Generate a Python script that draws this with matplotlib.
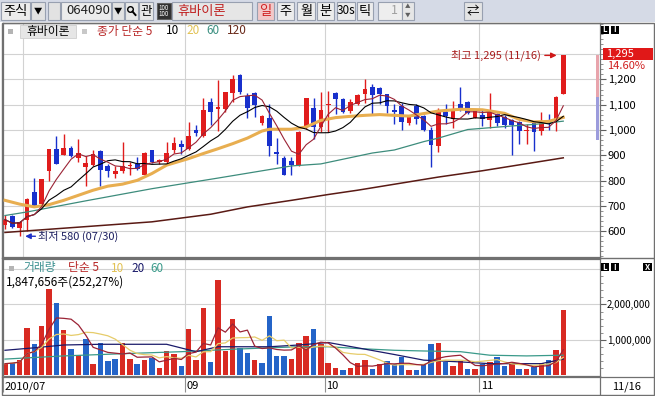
import numpy as np
import pandas as pd
import matplotlib
matplotlib.use('Agg')
import matplotlib.pyplot as plt
from matplotlib.patches import Rectangle

plt.rcParams['font.family'] = ['Noto Sans CJK KR', 'DejaVu Sans']

# daily candles 2010/07/28 .. 2010/11/16 (휴바이론, 064090)
opens = [624, 660, 614, 643, 753, 707, 837, 924, 903, 930,
         889, 854, 863, 917, 857, 825, 838, 857, 867, 821,
         920, 872, 874, 920, 943, 926, 999, 975, 1111, 1085,
         1084, 1147, 1216, 1134, 1146, 1028, 1049, 912, 891, 876,
         861, 1012, 1088, 1012, 1100, 1147, 1121, 1075, 1104, 1143,
         1170, 1167, 1141, 1078, 1093, 1029, 1095, 1054, 999, 936,
         1072, 1042, 1104, 1112, 1048, 1058, 1038, 1062, 1051, 1038,
         1031, 995, 1028, 998, 1038, 1042, 1141]
highs = [663, 665, 640, 730, 812, 808, 926, 975, 983, 936,
         963, 896, 920, 922, 867, 857, 953, 874, 893, 913,
         922, 885, 953, 972, 959, 1032, 1018, 1126, 1126, 1196,
         1150, 1218, 1220, 1147, 1150, 1058, 1101, 970, 896, 893,
         995, 1128, 1126, 1150, 1153, 1150, 1126, 1121, 1141, 1200,
         1183, 1170, 1143, 1104, 1107, 1058, 1104, 1058, 1012, 1087,
         1101, 1115, 1170, 1115, 1084, 1079, 1148, 1068, 1058, 1042,
         1035, 1022, 1032, 1071, 1062, 1134, 1295]
lows = [610, 612, 580, 600, 697, 697, 799, 864, 900, 893,
        874, 779, 857, 779, 814, 812, 832, 821, 843, 818,
        870, 866, 870, 911, 904, 922, 975, 972, 1018, 996,
        1071, 1111, 1143, 1049, 1051, 1018, 897, 867, 821, 821,
        857, 1005, 963, 992, 992, 1062, 1067, 1069, 1097, 1107,
        1064, 1104, 1069, 1025, 999, 1018, 1025, 996, 854, 913,
        1022, 1009, 1075, 1062, 1046, 1015, 1009, 1015, 1009, 900,
        945, 945, 916, 982, 1002, 998, 1141]
closes = [646, 617, 637, 729, 700, 805, 924, 867, 930, 897,
          911, 870, 904, 841, 838, 837, 857, 863, 847, 911,
          874, 880, 911, 950, 933, 975, 989, 1078, 1071, 1089,
          1150, 1200, 1150, 1088, 1100, 1054, 937, 904, 824, 863,
          992, 1126, 1012, 1078, 1104, 1121, 1071, 1111, 1137, 1161,
          1138, 1141, 1095, 1071, 1032, 1055, 1045, 999, 942, 1081,
          1055, 1076, 1080, 1068, 1081, 1042, 1081, 1026, 1018, 1020,
          998, 1002, 993, 1035, 1025, 1130, 1295]
volumes = [320000, 350000, 420000, 1340000, 870000, 1390000, 2450000, 2040000, 1280000, 750000,
           560000, 1010000, 320000, 920000, 390000, 450000, 900000, 450000, 320000, 420000,
           470000, 200000, 680000, 590000, 250000, 1300000, 420000, 1910000, 370000, 2690000,
           680000, 1590000, 770000, 630000, 420000, 340000, 1680000, 540000, 540000, 450000,
           920000, 1100000, 1300000, 880000, 340000, 200000, 130000, 200000, 340000, 420000,
           160000, 300000, 390000, 300000, 510000, 150000, 130000, 300000, 880000, 910000,
           370000, 250000, 390000, 160000, 180000, 320000, 370000, 510000, 250000, 350000,
           160000, 160000, 230000, 350000, 420000, 720000, 1847656]

# long moving averages (bar number, value)
ma20_bars = [1, 3, 5, 7, 9, 11, 13, 15, 17, 19, 21, 23, 26, 28, 30, 32, 34, 36, 37, 40,
             42, 44, 46, 48, 50, 52, 54, 56, 58, 60, 63, 66, 69, 71, 73, 75, 77]
ma20_vals = [722, 707, 696, 705, 722, 742, 762, 778, 786, 801, 828, 861, 887, 907, 926, 946, 968, 996, 1003, 1003,
             1012, 1038, 1049, 1054, 1058, 1061, 1058, 1055, 1065, 1075, 1082, 1080, 1066, 1042, 1032, 1034, 1050]
ma60_bars = [1, 4, 12, 21, 30, 40, 44, 51, 54, 58, 60, 64, 70, 73, 77]
ma60_vals = [662, 676, 720, 768, 810, 858, 866, 909, 921, 954, 968, 1002, 1016, 1022, 1035]
ma120_bars = [1, 21, 29, 34, 40, 45, 49, 60, 66, 77]
ma120_vals = [595, 637, 667, 696, 722, 745, 762, 814, 839, 890]

vma20_bars = [1, 5, 9, 14, 23, 27, 30, 37, 41, 45, 49, 54, 58, 63, 67, 74, 77]
vma20_vals = [700000, 770000, 850000, 870000, 870000, 660000, 800000, 800000, 850000, 920000,
              770000, 580000, 420000, 370000, 320000, 320000, 450000]
vma60_bars = [1, 9, 18, 25, 32, 41, 45, 49, 54, 58, 63, 67, 72, 77]
vma60_vals = [450000, 540000, 610000, 660000, 730000, 800000, 800000, 750000, 700000, 680000,
              660000, 560000, 540000, 560000]

price_ticks = [600, 700, 800, 900, 1000, 1100, 1200]
price_grid = [600, 700, 800, 900, 1000, 1100, 1200, 1300]
vol_ticks = [1000000, 2000000]
month_edges = [2.5, 24.5, 43.5, 64.5]
month_labels = ['2010/07', '09', '10', '11']

RED = '#E01C1C'
BLUE = '#1830CC'
VRED = '#D82A22'
VBLUE = '#2464C8'
GRID = '#D2D2D2'
FRAME = '#707070'

W, H = 655, 396
XL, XR = -0.27, 81.0


def box(x0, y0, x1, y1):
    return [x0 / W, 1 - y1 / H, (x1 - x0) / W, (y1 - y0) / H]


fig = plt.figure(figsize=(6.55, 3.96), dpi=100)
fig.patch.set_facecolor('white')

o = np.array(opens, float)
c = np.array(closes, float)
hi = np.array(highs, float)
lo = np.array(lows, float)
v = np.array(volumes, float)
x = np.arange(len(c))

# ---- price panel
ax_p = fig.add_axes(box(3, 23, 600, 257))
ax_p.set_xlim(XL, XR)
ax_p.set_ylim(498, 1423)
for p in price_grid:
    ax_p.axhline(p, color=GRID, lw=0.8, zorder=0)
for e in month_edges:
    ax_p.axvline(e, color=GRID, lw=0.8, zorder=0)

col = np.where(c >= o, RED, BLUE)
ax_p.vlines(x, lo, hi, colors=col, lw=1, zorder=2)
ax_p.bar(x, np.maximum(np.abs(c - o), 4), bottom=np.minimum(o, c), width=0.64,
         color=col, linewidth=0, zorder=3)

ma5 = pd.Series(c).rolling(5, min_periods=1).mean()
ma10 = pd.Series(c).rolling(10, min_periods=1).mean()
ax_p.plot(np.array(ma120_bars) - 1, ma120_vals, color='#5A1A14', lw=1.1, zorder=4)
ax_p.plot(np.array(ma60_bars) - 1, ma60_vals, color='#3D8C7C', lw=0.9, zorder=4)
ax_p.plot(np.array(ma20_bars) - 1, ma20_vals, color='#E8AE50', lw=2.2, zorder=4)
ax_p.plot(x, ma10, color='black', lw=0.8, zorder=5)
ax_p.plot(x, ma5, color='#9B2335', lw=0.8, zorder=5)

# upper / lower limit bar beside the axis
prev = c[-2]
ax_p.bar(80.68, hi[-1] - prev, bottom=prev, width=0.42, color='#E8A4AC', linewidth=0)
ax_p.bar(80.68, prev - prev * 0.85, bottom=prev * 0.85, width=0.42, color='#9C9CDC', linewidth=0)

imax = int(np.argmax(hi))
imin = int(np.argmin(lo))
ax_p.annotate('최고 {:,} (11/16)'.format(int(hi[imax])), xy=(imax - 0.9, hi[imax]),
              xytext=(-16, 0), textcoords='offset pixels', ha='right', va='center',
              fontsize=8, color='#A81C1C',
              arrowprops=dict(arrowstyle='-|>', color='#D01818', lw=1, mutation_scale=8,
                              shrinkA=1, shrinkB=0), zorder=6)
ax_p.annotate('최저 {} (07/30)'.format(int(lo[imin])), xy=(imin + 0.75, lo[imin]),
              xytext=(13, 0), textcoords='offset pixels', ha='left', va='center',
              fontsize=8, color='#1E2060',
              arrowprops=dict(arrowstyle='-|>', color='#1E30C8', lw=1, mutation_scale=8,
                              shrinkA=0, shrinkB=0), zorder=6)

ax_p.yaxis.tick_right()
ax_p.set_yticks(price_ticks)
ax_p.set_yticklabels(['{:,}'.format(t) for t in price_ticks])
ax_p.set_yticks(np.arange(500, 1421, 20), minor=True)
ax_p.set_xticks([])
ax_p.tick_params(axis='y', which='major', length=4, width=0.8, color='#606060',
                 labelsize=8, pad=1.5)
ax_p.tick_params(axis='y', which='minor', length=2, width=0.6, color='#808080')
for s in ax_p.spines.values():
    s.set_color(FRAME)
    s.set_linewidth(0.9)

# ---- volume panel
ax_v = fig.add_axes(box(3, 259, 600, 376))
ax_v.set_xlim(XL, XR)
ax_v.set_ylim(-30000, 3290000)
for t in [1000000, 2000000, 3000000]:
    ax_v.axhline(t, color=GRID, lw=0.8, zorder=0)
for e in month_edges[1:]:
    ax_v.axvline(e, color=GRID, lw=0.8, zorder=0)

vcol = [VRED] + [VRED if c[i] >= c[i - 1] else VBLUE for i in range(1, len(c))]
ax_v.bar(x, v, width=0.74, color=vcol, linewidth=0, zorder=2)
vma5 = pd.Series(v).rolling(5, min_periods=1).mean()
vma10 = pd.Series(v).rolling(10, min_periods=1).mean()
ax_v.plot(np.array(vma60_bars) - 1, vma60_vals, color='#3A9A8A', lw=0.9, zorder=3)
ax_v.plot(np.array(vma20_bars) - 1, vma20_vals, color='#1A1A6A', lw=0.9, zorder=3)
ax_v.plot(x, vma10, color='#E6CC6A', lw=0.9, zorder=3)
ax_v.plot(x, vma5, color='#9B2335', lw=0.9, zorder=3)

ax_v.yaxis.tick_right()
ax_v.set_yticks(vol_ticks)
ax_v.set_yticklabels(['{:,}'.format(t) for t in vol_ticks])
ax_v.set_yticks(np.arange(200000, 2800001, 200000), minor=True)
ax_v.set_xticks([])
ax_v.tick_params(axis='y', which='major', length=4, width=0.8, color='#606060',
                 labelsize=7, pad=1)
ax_v.tick_params(axis='y', which='minor', length=2, width=0.6, color='#808080')
for s in ax_v.spines.values():
    s.set_color(FRAME)
    s.set_linewidth(0.9)

# ---- date row
ax_b = fig.add_axes(box(3, 376, 600, 395))
ax_b.set_xlim(XL, XR)
ax_b.set_ylim(1, 0)
ax_b.axis('off')
label_pos = [XL] + month_edges[1:]
for pos, lab in zip(label_pos, month_labels):
    ax_b.vlines(pos, 0, 0.85, color='#909090', lw=0.8)
    ax_b.text(pos + 0.25, 0.55, lab, ha='left', va='center', fontsize=8, color='black')

# ---- overlay: toolbar, legends, frames
ax_o = fig.add_axes([0, 0, 1, 1])
ax_o.set_xlim(0, W)
ax_o.set_ylim(H, 0)
ax_o.axis('off')

ax_o.add_patch(Rectangle((0, 0), W, 22, fc='#D5DAE6', ec='none'))


def button(x0, x1, label, bg='#ECECEC', fg='black', size=9, y0=2, y1=20):
    ax_o.add_patch(Rectangle((x0, y0), x1 - x0, y1 - y0, fc=bg, ec='#98A0B0', lw=0.8))
    if label:
        ax_o.text((x0 + x1) / 2, (y0 + y1) / 2, label, ha='center', va='center',
                  fontsize=size, color=fg)


button(1, 30, '')
ax_o.text(3, 11, '주식', ha='left', va='center', fontsize=9.5)
button(31, 45, '▼', bg='#E2E2E2', size=6)
button(48, 60, '', bg='#E2E2E2')
button(61, 111, '')
ax_o.text(66, 11, '064090', ha='left', va='center', fontsize=9.5, color='#202020')
button(112, 124, '▼', bg='#E2E2E2', size=6)
button(125, 138, '', bg='#E8E8E8')
ax_o.add_patch(plt.Circle((130.5, 9.5), 2.8, fill=False, ec='black', lw=1))
ax_o.plot([132.5, 135.5], [11.5, 15], color='black', lw=1.4)
button(139, 153, '관', bg='#E8E8E8', size=9)
ax_o.add_patch(Rectangle((157, 3), 14, 16, fc='#303030', ec='#606060', lw=0.8))
ax_o.text(164, 7.5, '100', ha='center', va='center', fontsize=4.5, color='white')
ax_o.text(164, 14.5, '100', ha='center', va='center', fontsize=4.5, color='white')
button(172, 252, '', bg='#E6E6E6')
ax_o.text(177, 11, '휴바이론', ha='left', va='center', fontsize=9.5, color='#C02020')
button(257, 274, '일', bg='#F2C8C8', fg='#D02020', size=9.5)
button(277, 294, '주', size=9.5)
button(297, 315, '월', size=9.5)
button(317, 334, '분', size=9.5)
button(337, 355, '30s', size=8.5)
button(357, 373, '틱', size=9.5)
button(378, 402, '', bg='#EEEEEE')
ax_o.text(398, 11, '1', ha='right', va='center', fontsize=9, color='#A0A0A0')
button(402, 414, '', bg='#E6E6E6')
ax_o.text(408, 7, '▲', ha='center', va='center', fontsize=4, color='#606060')
ax_o.text(408, 15, '▼', ha='center', va='center', fontsize=4, color='#606060')
button(464, 482, '⇄', bg='#E4E4E4', size=9)

# frames
ax_o.add_patch(Rectangle((1.5, 22.5), 652, 372.5, fill=False, ec=FRAME, lw=1))
ax_o.plot([1.5, 653.5], [258, 258], color=FRAME, lw=1)
ax_o.plot([600, 600], [376, 395], color=FRAME, lw=0.9)
ax_o.plot([1.5, 653.5], [376.5, 376.5], color=FRAME, lw=0.9)
ax_o.text(612, 387, '11/16', ha='left', va='center', fontsize=8)

# price legend
ax_o.add_patch(Rectangle((8, 29), 5, 5, fc='#B4B4B4', ec='none'))
ax_o.add_patch(Rectangle((20, 24.5), 56, 13, fc='#E6E6E6', ec='#CFCFCF', lw=0.6))
ax_o.text(48, 31, '휴바이론', ha='center', va='center', fontsize=8.5)
ax_o.add_patch(Rectangle((82, 29), 5, 5, fc='#C8C8C8', ec='none'))
ax_o.text(97, 31, '종가 단순 5', ha='left', va='center', fontsize=8.5, color='#B82828')
ax_o.text(166, 31, '10', ha='left', va='center', fontsize=8.5, color='black')
ax_o.text(186, 31, '20', ha='left', va='center', fontsize=8.5, color='#E2C254')
ax_o.text(206, 31, '60', ha='left', va='center', fontsize=8.5, color='#3A8F80')
ax_o.text(227, 31, '120', ha='left', va='center', fontsize=8.5, color='#6A2A1A')

# volume legend
ax_o.add_patch(Rectangle((9, 266), 5, 5, fc='#B4B4B4', ec='none'))
ax_o.text(23, 268, '거래량', ha='left', va='center', fontsize=8.5, color='#3A8F8F')
ax_o.text(68, 268, '단순 5', ha='left', va='center', fontsize=8.5, color='#B82828')
ax_o.text(111, 268, '10', ha='left', va='center', fontsize=8.5, color='#E2C254')
ax_o.text(131, 268, '20', ha='left', va='center', fontsize=8.5, color='#1A1A6A')
ax_o.text(150, 268, '60', ha='left', va='center', fontsize=8.5, color='#3A9A8A')
ax_o.text(6, 282, '{:,}주(252,27%)'.format(volumes[-1]), ha='left', va='center', fontsize=8.5)


def li_box(y):
    for x0, ch in [(600.5, 'L'), (610.5, 'I')]:
        ax_o.add_patch(Rectangle((x0, y), 8, 8, fc='black', ec='none'))
        ax_o.text(x0 + 4, y + 4, ch, ha='center', va='center', fontsize=5.5,
                  color='white', fontweight='bold')


li_box(26)
li_box(263)
ax_o.add_patch(Rectangle((643, 263), 9, 8, fc='black', ec='none'))
ax_o.text(647.5, 267, 'X', ha='center', va='center', fontsize=6, color='white', fontweight='bold')

# last price box
ax_o.add_patch(Rectangle((603, 48), 50, 12, fc='#E01818', ec='none'))
ax_o.text(606, 54, '{:,}'.format(int(c[-1])), ha='left', va='center', fontsize=8, color='white')
ax_o.text(607, 66, '{:.2f}%'.format((c[-1] / c[-2] - 1) * 100), ha='left', va='center',
          fontsize=8, color='#D02020')

fig.savefig('out.png', dpi=100)
